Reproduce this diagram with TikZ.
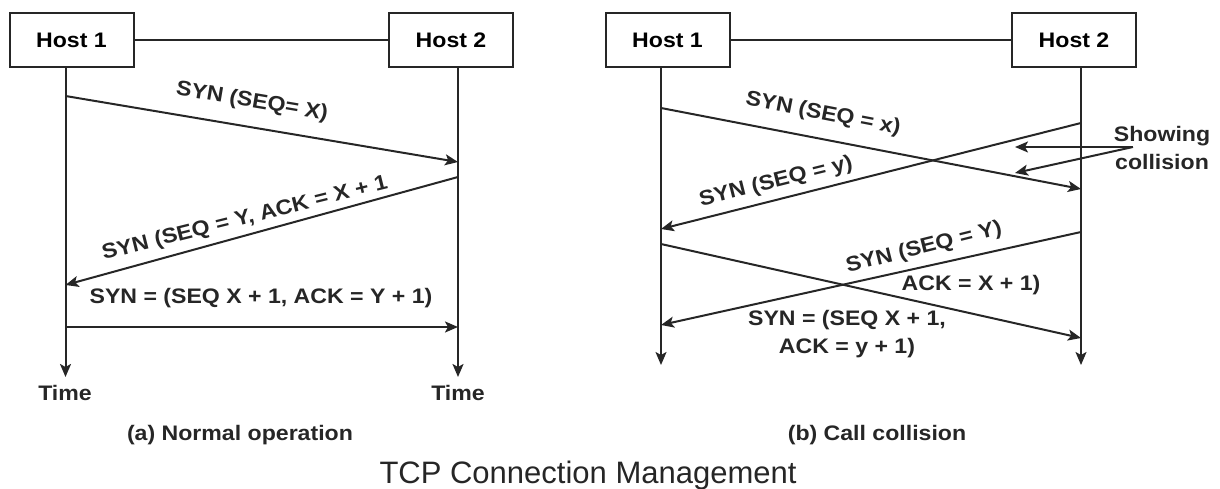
\documentclass[tikz,border=0pt]{standalone}
\usepackage{fontspec}
\setmainfont{Liberation Sans}
\newfontfamily\labfont[FakeStretch=1.1]{Liberation Sans}
\usetikzlibrary{arrows.meta}
\tikzset{
  line/.style={line width=2pt, draw=black!85},
  msg/.style={line, -{Stealth[length=13pt,width=11pt,inset=3pt]}},
  host/.style={draw=black!85, line width=2pt, minimum width=124pt, minimum height=54pt, inner sep=0pt, font=\labfont\fontsize{21}{25}\selectfont\bfseries},
  lab/.style={inner sep=0pt, font=\labfont\fontsize{21}{25}\selectfont\bfseries, text=black!85},
  labc/.style={lab, align=center, font=\labfont\fontsize{21}{28}\selectfont\bfseries},
  ttl/.style={inner sep=0pt, font=\fontsize{31}{36}\selectfont, text=black!85}
}
\begin{document}
\begin{tikzpicture}[x=1pt,y=-1pt]
\useasboundingbox (0,0) rectangle (1220,489);
% ---------- (a) Normal operation ----------
\node[host] (aH1) at (71.5,40) {Host 1};
\node[host] (aH2) at (451,40) {Host 2};
\draw[line] (aH1) -- (aH2);
\coordinate (aL1t) at (65.5,67);
\coordinate (aL1b) at (65.5,377);
\coordinate (aL2t) at (458,67);
\coordinate (aL2b) at (458,377);
\draw[msg] (aL1t) -- (aL1b);
\draw[msg] (aL2t) -- (aL2b);
\coordinate (a1s) at (65.5,96);  \coordinate (a1e) at (458,162);
\coordinate (a2s) at (458,177);  \coordinate (a2e) at (65.5,285);
\coordinate (a3s) at (65.5,327); \coordinate (a3e) at (458,327);
\draw[msg] (a1s) -- (a1e);
\draw[msg] (a2s) -- (a2e);
\draw[msg] (a3s) -- (a3e);
\node[lab, rotate=-9.6] (aT1) at (252,102) {SYN (SEQ= X)};
\node[lab, rotate=14] (aT2) at (245,219) {SYN (SEQ = Y, ACK = X + 1};
\node[lab] (aT3) at (261,298) {SYN = (SEQ X + 1, ACK = Y + 1)};
\node[lab] (aTime1) at (65,393) {Time};
\node[lab] (aTime2) at (458,393) {Time};
\node[lab] (aCap) at (240,435) {(a) Normal operation};
% ---------- (b) Call collision ----------
\node[host] (bH1) at (667.5,40) {Host 1};
\node[host] (bH2) at (1074,40) {Host 2};
\draw[line] (bH1) -- (bH2);
\coordinate (bL1t) at (661,67);
\coordinate (bL1b) at (661,365);
\coordinate (bL2t) at (1081,67);
\coordinate (bL2b) at (1081,365);
\draw[msg] (bL1t) -- (bL1b);
\draw[msg] (bL2t) -- (bL2b);
\coordinate (b1s) at (661,108);  \coordinate (b1e) at (1081,189);
\coordinate (b2s) at (1081,123); \coordinate (b2e) at (661,229);
\coordinate (b3s) at (661,244);  \coordinate (b3e) at (1081,338);
\coordinate (b4s) at (1081,232); \coordinate (b4e) at (661,325);
\draw[msg] (b1s) -- (b1e);
\draw[msg] (b2s) -- (b2e);
\draw[msg] (b3s) -- (b3e);
\draw[msg] (b4s) -- (b4e);
\node[lab, rotate=-11] (bT1) at (823,114) {SYN (SEQ = x)};
\node[lab, rotate=14] (bT2) at (776,182) {SYN (SEQ = y)};
\node[lab, rotate=14] (bT3) at (924,248) {SYN (SEQ = Y)};
\node[lab] (bT4) at (971,285) {ACK = X + 1)};
\node[labc] (bT5) at (847,334) {SYN = (SEQ X + 1,\\ACK = y + 1)};
\node[labc] (bShow) at (1162,148) {Showing\\collision};
\coordinate (bSrc) at (1133,147);
\coordinate (bC1) at (1015,147);
\coordinate (bC2) at (1015,173);
\draw[msg] (bSrc) -- (bC1);
\draw[msg] (bSrc) -- (bC2);
\node[lab] (bCap) at (877,435) {(b) Call collision};
% ---------- title ----------
\node[ttl] (title) at (588,475) {TCP Connection Management};
\end{tikzpicture}
\end{document}
